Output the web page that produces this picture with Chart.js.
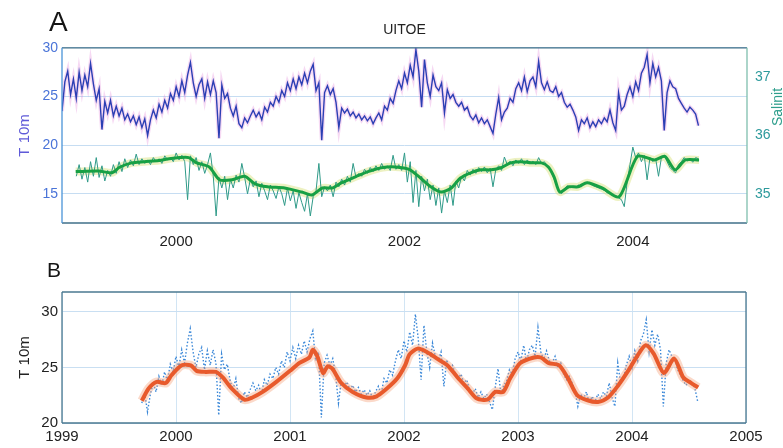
<!DOCTYPE html>
<html>
<head>
<meta charset="utf-8">
<script src="https://cdn.jsdelivr.net/npm/chart.js@4"></script>
<style>
  body { margin: 0; background: #fff; width: 783px; height: 448px; position: relative; overflow: hidden; font-family: "Liberation Sans", Arial, sans-serif; }
  canvas { position: absolute; left: 0; }
  #chartA { top: 0; }
  #chartB { top: 250px; }
  .lbl { position: absolute; color: #151515; line-height: 1; }
  #sal { left: 752px; top: 100px; font-size: 14px; color: #2e9e8c; transform: rotate(-90deg); transform-origin: center; width: 50px; text-align: center; }
</style>
</head>
<body>
<canvas id="chartA" width="783" height="250"></canvas>
<canvas id="chartB" width="783" height="198"></canvas>
<div class="lbl" style="left:49px;top:8px;font-size:28px">A</div>
<div class="lbl" style="left:47px;top:259px;font-size:21px">B</div>
<div class="lbl" id="sal">Salinit</div>
<script>
// daily-ish T 10m record, sampled every 0.025 yr from 1999.0
const tempStart = 1999.0;
const tempStep = 0.025;
const tempValues = [
  23.5, 26.5, 27.6, 25.2, 26.8, 24.8, 27.5, 25.6, 27.2, 26.0, 28.4, 26.3, 24.6, 25.8, 21.6, 24.5, 23.3, 24.6, 23.0, 24.0,
  23.0, 23.8, 22.6, 23.2, 22.4, 23.0, 22.1, 22.9, 21.8, 22.7, 21.0, 22.6, 23.6, 22.8, 24.2, 23.4, 24.6, 23.8, 25.3, 24.6,
  26.0, 25.0, 26.6, 25.4, 27.2, 28.5, 26.4, 25.0, 26.2, 26.8, 24.8, 26.5, 25.2, 26.6, 25.4, 20.7, 26.2, 24.8, 25.3, 23.8,
  23.0, 24.0, 22.2, 21.8, 22.8, 22.3, 23.0, 23.6, 22.9, 23.4, 22.6, 23.9, 23.4, 24.4, 24.0, 25.0, 24.4, 25.6, 25.0, 26.4,
  25.6, 26.8, 25.8, 27.0, 26.2, 27.4, 26.4, 27.6, 28.3, 25.6, 26.4, 20.5, 25.4, 26.1, 25.2, 25.8, 24.4, 21.8, 23.8, 23.3,
  23.7, 23.0, 23.4, 22.8, 23.2, 22.6, 23.0, 22.5, 22.9, 22.2, 22.8, 23.3, 22.6, 24.0, 23.6, 24.8, 24.3, 25.6, 26.6, 25.8,
  27.4, 26.4, 28.2, 27.0, 29.8, 27.6, 23.9, 28.8, 26.4, 25.0, 27.2, 26.0, 25.6, 26.4, 23.3, 25.7, 24.8, 25.2, 24.4, 24.0,
  24.4, 23.6, 23.9, 23.0, 22.6, 23.1, 22.3, 22.8, 22.2, 22.6, 21.9, 21.2, 23.2, 24.9, 22.6, 23.4, 23.8, 24.8, 24.4, 25.8,
  26.4, 25.6, 27.0, 25.5, 26.6, 27.0, 26.0, 28.6, 26.4, 25.7, 26.5, 25.6, 25.4, 26.0, 25.0, 25.4, 24.4, 23.9, 24.2, 23.6,
  22.9, 21.5, 22.6, 22.2, 22.8, 21.8, 22.4, 21.9, 22.6, 22.2, 22.8, 22.4, 23.6, 22.3, 21.5, 25.4, 23.6, 24.0, 25.2, 26.0,
  25.0, 26.5, 25.6, 27.4, 28.0, 29.3, 26.4, 28.4, 27.0, 28.0, 26.6, 21.5, 25.4, 26.6, 26.0, 25.8, 24.8, 24.3, 23.8, 23.4,
  23.9, 23.6, 23.2, 22.0
];

// salinity record, every 0.025 yr from 1999.125
const salStart = 1999.125;
const salStep = 0.025;
const salValues = [
  35.30, 35.50, 35.25, 35.45, 35.20, 35.55, 35.30, 35.62, 35.28, 35.48, 35.22, 35.40, 35.30, 35.50, 35.35, 35.55, 35.38, 35.60, 35.45, 35.58,
  35.48, 35.68, 35.50, 35.60, 35.52, 35.58, 35.50, 35.62, 35.55, 35.60, 35.52, 35.65, 35.58, 35.62, 35.55, 35.70, 35.58, 35.66, 35.55, 34.90,
  35.65, 35.50, 35.62, 35.40, 35.55, 35.35, 35.50, 35.70, 35.30, 34.62, 35.28, 35.10, 35.30, 34.90, 35.25, 35.10, 35.32, 35.20, 35.52, 35.28,
  35.00, 35.25, 35.12, 35.22, 34.95, 35.18, 35.05, 34.90, 35.15, 35.05, 34.92, 35.12, 35.00, 34.80, 35.10, 34.88, 35.05, 34.75, 35.02, 34.85,
  34.70, 35.00, 34.62, 34.95, 35.05, 35.52, 34.95, 35.12, 35.05, 35.15, 34.95, 35.20, 35.12, 35.25, 35.15, 35.30, 35.20, 35.52, 35.28, 35.35,
  35.30, 35.42, 35.35, 35.45, 35.38, 35.48, 35.40, 35.52, 35.42, 35.48, 35.40, 35.66, 35.42, 35.50, 35.40, 35.70, 35.20, 35.55, 34.85, 35.40,
  34.78, 35.30, 35.05, 35.25, 34.90, 35.15, 34.80, 35.10, 34.67, 35.05, 34.85, 35.15, 34.80, 35.22, 35.10, 35.30, 35.22, 35.40, 35.32, 35.42,
  35.35, 35.45, 35.38, 35.46, 35.36, 35.44, 35.12, 35.42, 35.48, 35.40, 35.63, 35.50, 35.56, 35.48, 35.58, 35.52, 35.60, 35.50, 35.58, 35.52,
  35.56, 35.50, 35.62, 35.52, 35.55, 35.48, 35.42, 35.30, 35.18, 35.05, 35.00, 35.08, 35.14, 35.10, 35.13, 35.11, 35.15, 35.12, 35.18, 35.20,
  35.17, 35.14, 35.12, 35.10, 35.08, 35.06, 35.02, 35.00, 34.98, 34.96, 34.93, 34.90, 34.78, 35.20, 35.50, 35.80, 35.62, 35.70, 35.55, 35.66,
  35.24, 35.62, 35.55, 35.60, 35.30, 35.62, 35.66, 35.55, 35.45, 35.40, 35.36, 35.50, 35.55, 35.62, 35.56, 35.60, 35.54, 35.62, 35.60
];

const salSmoothYears = [
  1999.12, 1999.32, 1999.44, 1999.50, 1999.61, 1999.72, 1999.85, 1999.94,
  2000.03, 2000.11, 2000.18, 2000.29, 2000.38, 2000.49, 2000.60, 2000.69, 2000.80, 2000.95,
  2001.10, 2001.19, 2001.28, 2001.37, 2001.45, 2001.57, 2001.68, 2001.81, 2001.92,
  2002.04, 2002.14, 2002.23, 2002.32, 2002.41, 2002.49, 2002.58, 2002.67, 2002.76, 2002.85, 2002.93,
  2003.02, 2003.11, 2003.20, 2003.26, 2003.31, 2003.36, 2003.44, 2003.52, 2003.60, 2003.73, 2003.88,
  2004.04, 2004.19, 2004.28, 2004.37, 2004.46, 2004.58
];
const salSmoothValues = [
  35.38, 35.39, 35.36, 35.45, 35.53, 35.55, 35.57, 35.60,
  35.62, 35.62, 35.53, 35.46, 35.24, 35.24, 35.30, 35.17, 35.12, 35.10,
  35.03, 34.98, 35.10, 35.10, 35.19, 35.29, 35.38, 35.45, 35.46,
  35.42, 35.27, 35.12, 35.03, 35.10, 35.27, 35.36, 35.41, 35.41, 35.45, 35.53,
  35.55, 35.53, 35.53, 35.46, 35.29, 35.03, 35.12, 35.12, 35.19, 35.10, 34.95,
  35.64, 35.58, 35.64, 35.41, 35.58, 35.58
];

// smoothed T 10m (panel B)
const tempSmoothYears = [
  1999.70, 1999.76, 1999.83, 1999.91, 1999.96,
  2000.05, 2000.13, 2000.18, 2000.26, 2000.35, 2000.41, 2000.49, 2000.60, 2000.67, 2000.76, 2000.88,
  2001.00, 2001.08, 2001.17, 2001.20, 2001.24, 2001.29, 2001.33, 2001.37, 2001.45, 2001.55, 2001.67, 2001.76, 2001.85, 2001.94,
  2002.01, 2002.05, 2002.12, 2002.20, 2002.29, 2002.38, 2002.47, 2002.56, 2002.64, 2002.73, 2002.80, 2002.87, 2002.93,
  2003.02, 2003.14, 2003.20, 2003.27, 2003.36, 2003.44, 2003.52, 2003.61, 2003.70, 2003.79, 2003.88, 2003.96,
  2004.05, 2004.12, 2004.19, 2004.28, 2004.37, 2004.45, 2004.52, 2004.58
];
const tempSmoothValues = [
  22.0, 23.1, 23.7, 23.6, 24.3,
  25.2, 25.2, 24.7, 24.6, 24.6, 24.1, 23.1, 22.1, 22.3, 22.8, 23.7,
  24.7, 25.4, 25.9, 26.6, 26.0, 24.5, 25.1, 24.9, 23.6, 22.8, 22.3, 22.4, 23.1, 24.0,
  25.2, 26.2, 26.7, 26.4, 25.8, 25.2, 24.1, 23.1, 22.2, 22.1, 22.8, 22.8, 24.0,
  25.4, 25.9, 25.9, 25.4, 25.2, 24.0, 22.5, 22.05, 21.9, 22.3, 23.4, 24.6,
  26.1, 27.0, 26.25, 24.5, 25.8, 24.1, 23.6, 23.2
];

const bStart = 1999.7;
const yearTicksA = [2000, 2002, 2004];
const yearTicksB = [1999, 2000, 2001, 2002, 2003, 2004, 2005];
const tTicksA = [15, 20, 25, 30];
const salTicks = [35, 36, 37];
const tTicksB = [20, 25, 30];

Chart.defaults.font.family = '"Liberation Sans", Arial, sans-serif';
Chart.defaults.animation = false;

const tempPts = tempValues.map((v, i) => ({ x: tempStart + i * tempStep, y: v }));
const salPts = salValues.map((v, i) => ({ x: salStart + i * salStep, y: v }));
const salSmoothPts = salSmoothYears.map((yr, i) => ({ x: yr, y: salSmoothValues[i] }));
const tempSmoothPts = tempSmoothYears.map((yr, i) => ({ x: yr, y: tempSmoothValues[i] }));
const tempPtsB = tempPts.filter(p => p.x >= bStart - 0.001);

const setTicks = vals => scale => { scale.ticks = vals.map(v => ({ value: v })); };

// box round the plot area, one colour per side
const frame = {
  id: 'frame',
  afterDraw(chart, args, opts) {
    const { ctx, chartArea: a } = chart;
    ctx.save();
    ctx.lineWidth = 1.3;
    const side = (c, x1, y1, x2, y2) => {
      ctx.strokeStyle = c;
      ctx.beginPath();
      ctx.moveTo(x1, y1);
      ctx.lineTo(x2, y2);
      ctx.stroke();
    };
    side(opts.top, a.left, a.top, a.right, a.top);
    side(opts.bottom, a.left, a.bottom, a.right, a.bottom);
    side(opts.left, a.left, a.top, a.left, a.bottom);
    side(opts.right, a.right, a.top, a.right, a.bottom);
    ctx.restore();
  }
};

new Chart(document.getElementById('chartA'), {
  type: 'line',
  data: {
    datasets: [
      { data: salSmoothPts, yAxisID: 'y1', borderColor: '#17a044', borderWidth: 3, pointRadius: 0, tension: 0.25, order: 1 },
      { data: salPts, yAxisID: 'y1', borderColor: '#2f9a88', borderWidth: 1, pointRadius: 0, order: 2 },
      { data: salSmoothPts, yAxisID: 'y1', borderColor: 'rgba(215,225,120,0.45)', borderWidth: 8, pointRadius: 0, tension: 0.25, order: 3 },
      { data: tempPts, yAxisID: 'y', borderColor: '#2b3fb4', borderWidth: 1.4, pointRadius: 0, order: 4 },
      { data: tempPts, yAxisID: 'y', borderColor: 'rgba(225,130,215,0.3)', borderWidth: 4, pointRadius: 0, order: 5 }
    ]
  },
  options: {
    responsive: false,
    devicePixelRatio: 1,
    layout: { padding: 0 },
    plugins: {
      legend: { display: false },
      tooltip: { enabled: false },
      title: { display: true, text: 'UITOE', fullSize: false, color: '#222', font: { size: 14, weight: 'normal' }, padding: { top: 22, bottom: 9 } },
      frame: { top: '#3f6f88', bottom: '#3f6f88', left: '#4a94d8', right: '#7fbfae' }
    },
    scales: {
      x: {
        type: 'linear', min: 1999, max: 2005,
        afterBuildTicks: setTicks(yearTicksA),
        afterFit: s => { s.height = 27; },
        grid: { display: false },
        border: { display: false },
        ticks: { color: '#222', font: { size: 15 }, padding: 2, autoSkip: false, maxRotation: 0, callback: v => String(v) }
      },
      y: {
        position: 'left', min: 12, max: 30,
        afterBuildTicks: setTicks(tTicksA),
        afterFit: s => { s.width = 62; },
        grid: { color: '#c6ddf2', drawTicks: false },
        border: { display: false },
        ticks: { color: '#4a74d8', font: { size: 14 }, padding: 4 },
        title: { display: true, text: 'T 10m', color: '#5f5ad8', font: { size: 15 }, padding: { top: 16, bottom: 0 } }
      },
      y1: {
        position: 'right', min: 34.5, max: 37.5,
        afterBuildTicks: setTicks(salTicks),
        afterFit: s => { s.width = 36; },
        grid: { display: false, drawTicks: false },
        border: { display: false },
        ticks: { color: '#2d9a9c', font: { size: 14 }, padding: 8 }
      }
    }
  },
  plugins: [frame]
});

new Chart(document.getElementById('chartB'), {
  type: 'line',
  data: {
    datasets: [
      { data: tempSmoothPts, borderColor: '#e85a2c', borderWidth: 4, pointRadius: 0, tension: 0.25, order: 1 },
      { data: tempSmoothPts, borderColor: 'rgba(245,160,120,0.4)', borderWidth: 9, pointRadius: 0, tension: 0.25, order: 2 },
      { data: tempPtsB, borderColor: '#3b88d8', borderWidth: 1.4, borderDash: [1.5, 2], pointRadius: 0, order: 3 }
    ]
  },
  options: {
    responsive: false,
    devicePixelRatio: 1,
    layout: { padding: { top: 42, right: 37, left: 0, bottom: 0 } },
    plugins: {
      legend: { display: false },
      tooltip: { enabled: false },
      frame: { top: '#4a7890', bottom: '#4a7890', left: '#4a7890', right: '#4a7890' }
    },
    scales: {
      x: {
        type: 'linear', min: 1999, max: 2005,
        afterBuildTicks: setTicks(yearTicksB),
        afterFit: s => { s.height = 25; },
        grid: { color: '#d2e5f4', drawTicks: false },
        border: { display: false },
        ticks: { color: '#222', font: { size: 15 }, padding: 5, autoSkip: false, maxRotation: 0, callback: v => String(v) }
      },
      y: {
        min: 20, max: 31.8,
        afterBuildTicks: setTicks(tTicksB),
        afterFit: s => { s.width = 62; },
        grid: { color: '#c9dff2', drawTicks: false },
        border: { display: false },
        ticks: { color: '#222', font: { size: 15 }, padding: 4 },
        title: { display: true, text: 'T 10m', color: '#222', font: { size: 15 }, padding: { top: 16, bottom: 0 } }
      }
    }
  },
  plugins: [frame]
});
</script>
</body>
</html>
